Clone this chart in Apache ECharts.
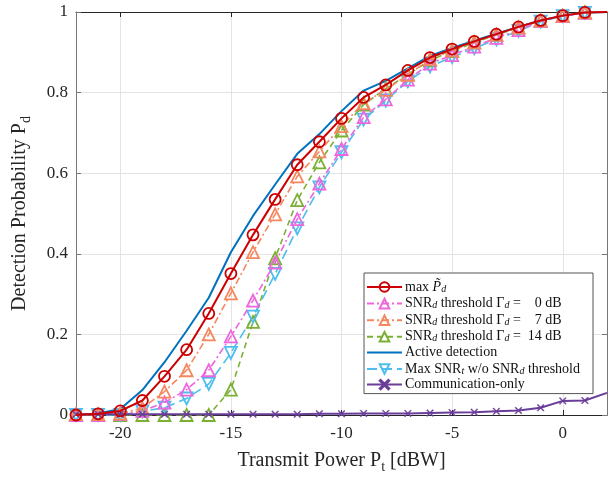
<!DOCTYPE html>
<html>
<head>
<meta charset="utf-8">
<script src="https://cdn.jsdelivr.net/npm/echarts@6/dist/echarts.min.js"></script>
<style>
  html, body { margin: 0; padding: 0; background: #fff; }
  #main { width: 611px; height: 479px; }
</style>
</head>
<body>
<div id="main"></div>
<script>
// transmit power, dBW (last point only carries the line to the right edge)
var powers = [-22, -21, -20, -19, -18, -17, -16, -15, -14, -13, -12, -11, -10, -9, -8, -7, -6, -5, -4, -3, -2, -1, 0, 1, 2];
var xTicks = [-20, -15, -10, -5, 0];

var maxPd      = [0.0, 0.003, 0.01, 0.036, 0.096, 0.162, 0.252, 0.351, 0.447, 0.535, 0.621, 0.678, 0.736, 0.788, 0.819, 0.855, 0.887, 0.908, 0.927, 0.945, 0.963, 0.979, 0.991, 0.999, 1.0];
var snr0dB     = [0.0, 0.0, 0.003, 0.01, 0.031, 0.063, 0.111, 0.195, 0.284, 0.378, 0.486, 0.574, 0.66, 0.739, 0.783, 0.832, 0.872, 0.893, 0.914, 0.936, 0.955, 0.978, 0.99, 0.998, 1.0];
var snr7dB     = [0.002, 0.002, 0.004, 0.017, 0.058, 0.111, 0.2, 0.302, 0.404, 0.498, 0.592, 0.654, 0.717, 0.774, 0.807, 0.844, 0.883, 0.905, 0.925, 0.944, 0.962, 0.979, 0.991, 0.999, 1.0];
var snr14dB    = [0.0, 0.0, 0.0, 0.0, 0.0, 0.0, 0.0, 0.063, 0.231, 0.389, 0.533, 0.627, 0.706, 0.77, 0.81, 0.845, 0.88, 0.903, 0.924, 0.943, 0.961, 0.978, 0.99, 0.999, 1.0];
var activeDet  = [0.0, 0.004, 0.015, 0.062, 0.131, 0.209, 0.291, 0.404, 0.494, 0.572, 0.648, 0.697, 0.754, 0.805, 0.829, 0.86, 0.891, 0.911, 0.929, 0.946, 0.963, 0.979, 0.991, 0.999, 1.0];
var maxSnrT    = [0.0, 0.0, 0.0, 0.009, 0.018, 0.041, 0.077, 0.154, 0.244, 0.35, 0.463, 0.565, 0.652, 0.733, 0.78, 0.828, 0.865, 0.888, 0.91, 0.932, 0.953, 0.976, 0.99, 0.998, 1.0];
var commOnly   = [0.002, 0.002, 0.002, 0.002, 0.002, 0.002, 0.002, 0.002, 0.002, 0.002, 0.002, 0.003, 0.003, 0.004, 0.004, 0.004, 0.005, 0.006, 0.007, 0.009, 0.011, 0.018, 0.035, 0.036, 0.055];

var fontFam = "'Liberation Serif', 'DejaVu Serif', serif";
var crossPath = 'path://M0,1 L1,0 L5,4 L9,0 L10,1 L6,5 L10,9 L9,10 L5,6 L1,10 L0,9 L4,5 Z';
// plain line for the legend entry without markers (corner dots keep the 35x12 box)
var linePath = 'path://M0,0 L0.01,0 L0.01,0.01 Z M0,5 L35,5 L35,7 L0,7 Z M0,12 L0.01,12 L0.01,11.99 Z';

function pts(vals){
  var out = [];
  for (var i = 0; i < powers.length; i++) {
    var p = { value: [powers[i], vals[i]] };
    if (i == powers.length - 1) p.symbol = 'none';
    out.push(p);
  }
  return out;
}

function mkSeries(name, vals, color, symbol, size, width, dash, z, rotate){
  return {
    name: name,
    type: 'line',
    data: pts(vals),
    symbol: symbol,
    symbolSize: size,
    symbolRotate: rotate || 0,
    showSymbol: symbol != 'none',
    clip: false,
    z: z,
    color: color,
    lineStyle: { color: color, width: width, type: dash },
    itemStyle: symbol == 'none' ? { color: color } :
      (symbol == crossPath ? { color: color, borderColor: color, borderWidth: 0.5 }
                           : { color: 'rgba(255,255,255,0)', borderColor: color, borderWidth: 1.8 }),
    emphasis: { disabled: true },
    animation: false
  };
}

var names = ['maxPd', 'snr0', 'snr7', 'snr14', 'active', 'maxsnrt', 'comm'];
var legendText = {
  maxPd:   '{n|max }{i|P̃}{s|d}',
  snr0:    '{n|SNR}{s|d}{n| threshold Γ}{s|d}{n| =    0 dB}',
  snr7:    '{n|SNR}{s|d}{n| threshold Γ}{s|d}{n| =    7 dB}',
  snr14:   '{n|SNR}{s|d}{n| threshold Γ}{s|d}{n| =  14 dB}',
  active:  '{n|Active detection}',
  maxsnrt: '{n|Max SNR}{s|t}{n| w/o SNR}{s|d}{n| threshold}',
  comm:    '{n|Communication-only}'
};
var legendData = names.map(function(n){
  if (n == 'active') return { name: n, icon: linePath, itemStyle: { color: '#0072bd', borderWidth: 0 } };
  return { name: n };
});

var myChart = echarts.init(document.getElementById('main'));

var option = {
  backgroundColor: '#fff',
  animation: false,
  grid: { left: 76, right: 4, top: 12, bottom: 61, show: false },
  legend: {
    data: legendData,
    orient: 'vertical',
    left: 364,
    top: 273,
    padding: [6, 13, 2, 2],
    itemGap: 1.6,
    itemWidth: 35,
    itemHeight: 12,
    backgroundColor: '#fff',
    borderColor: '#555',
    borderWidth: 1,
    borderRadius: 0,
    selectedMode: false,
    formatter: function(n){ return legendText[n]; },
    textStyle: {
      fontFamily: fontFam, fontSize: 14, color: '#111', padding: [0, 0, 0, -2],
      rich: {
        n: { fontFamily: fontFam, fontSize: 14, color: '#111', lineHeight: 14 },
        i: { fontFamily: fontFam, fontSize: 14, fontStyle: 'italic', color: '#111', lineHeight: 14 },
        s: { fontFamily: fontFam, fontSize: 10, fontStyle: 'italic', color: '#111', verticalAlign: 'bottom', lineHeight: 10, padding: [5, 0, 0, 0] }
      }
    }
  },
  xAxis: [{
    type: 'value', min: -22, max: 2,
    name: 'Transmit Power P{s|t} [dBW]',
    nameLocation: 'middle', nameGap: 33,
    nameTextStyle: {
      fontFamily: fontFam, fontSize: 20, color: '#262626',
      rich: { s: { fontFamily: fontFam, fontSize: 14, color: '#262626', padding: [12, 0, 0, 0] } }
    },
    axisLine: { show: true, onZero: false, lineStyle: { color: '#262626', width: 1 } },
    axisTick: { show: true, inside: true, length: 5, customValues: xTicks, lineStyle: { color: '#262626' } },
    axisLabel: { customValues: xTicks, fontFamily: fontFam, fontSize: 17, color: '#262626', margin: 10 },
    splitLine: { show: true, lineStyle: { color: '#e3e3e3', width: 1 } }
  }, {
    type: 'value', min: -22, max: 2, position: 'top',
    axisLine: { show: true, onZero: false, lineStyle: { color: '#262626', width: 1 } },
    axisTick: { show: true, inside: true, length: 5, customValues: xTicks, lineStyle: { color: '#262626' } },
    axisLabel: { show: false },
    splitLine: { show: false }
  }],
  yAxis: [{
    type: 'value', min: 0, max: 1, interval: 0.2,
    name: 'Detection Probability P{s|d}',
    nameLocation: 'middle', nameGap: 43,
    nameTextStyle: {
      fontFamily: fontFam, fontSize: 20, color: '#262626',
      rich: { s: { fontFamily: fontFam, fontSize: 14, color: '#262626', padding: [12, 0, 0, 0] } }
    },
    axisLine: { show: true, onZero: false, lineStyle: { color: '#777', width: 1 } },
    axisTick: { show: true, inside: true, length: 5, lineStyle: { color: '#777' } },
    axisLabel: { fontFamily: fontFam, fontSize: 17, color: '#262626', margin: 8 },
    splitLine: { show: true, lineStyle: { color: '#e3e3e3', width: 1 } }
  }, {
    type: 'value', min: 0, max: 1, interval: 0.2, position: 'right',
    axisLine: { show: true, onZero: false, lineStyle: { color: '#777', width: 1 } },
    axisTick: { show: true, inside: true, length: 5, lineStyle: { color: '#777' } },
    axisLabel: { show: false },
    splitLine: { show: false }
  }],
  series: [
    mkSeries('maxPd', maxPd, '#cc0000', 'circle', 11, 2, 'solid', 10),
    mkSeries('snr0', snr0dB, '#ee66dd', 'triangle', 12, 1.6, [7, 3, 2, 3], 5),
    mkSeries('snr7', snr7dB, '#f5875f', 'triangle', 12, 1.6, [7, 3, 2, 3], 6),
    mkSeries('snr14', snr14dB, '#7cb035', 'triangle', 12, 1.6, [6, 4], 4),
    mkSeries('active', activeDet, '#0072bd', 'none', 0, 2, 'solid', 3),
    mkSeries('maxsnrt', maxSnrT, '#4dbeee', 'triangle', 12, 1.6, [10, 5], 4, 180),
    mkSeries('comm', commOnly, '#6a3d9a', crossPath, 7, 2, 'solid', 7)
  ]
};

myChart.setOption(option);
</script>
</body>
</html>
